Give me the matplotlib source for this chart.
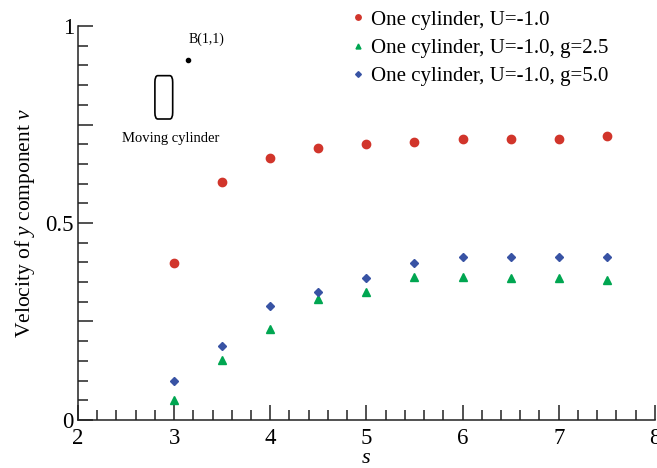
import matplotlib
matplotlib.use("Agg")
import matplotlib.pyplot as plt
from matplotlib.patches import FancyBboxPatch
from matplotlib.ticker import MultipleLocator, FuncFormatter

plt.rcParams['font.family'] = ['Liberation Serif', 'DejaVu Serif']
plt.rcParams['mathtext.fontset'] = 'custom'
plt.rcParams['mathtext.rm'] = 'Liberation Serif'
plt.rcParams['mathtext.it'] = 'Liberation Serif:italic'

# data
s = [3.0, 3.5, 4.0, 4.5, 5.0, 5.5, 6.0, 6.5, 7.0, 7.5]
v_one = [0.399, 0.604, 0.664, 0.690, 0.700, 0.705, 0.714, 0.714, 0.714, 0.720]
v_g25 = [0.051, 0.151, 0.230, 0.306, 0.325, 0.362, 0.362, 0.360, 0.360, 0.355]
v_g50 = [0.099, 0.189, 0.289, 0.324, 0.360, 0.399, 0.414, 0.414, 0.414, 0.414]
labels = ["One cylinder, U=-1.0",
          "One cylinder, U=-1.0, g=2.5",
          "One cylinder, U=-1.0, g=5.0"]

fig = plt.figure(figsize=(6.57, 4.68), dpi=100)
ax = fig.add_axes([0.1187, 0.1026, 0.878, 0.8418])

ax.plot(s, v_one, 'o', color='#d1352b', markersize=6, label=labels[0], clip_on=False)
ax.plot(s, v_g25, '^', color='#00a651', markersize=5.5, label=labels[1], clip_on=False)
ax.plot(s, v_g50, 'D', color='#3853a4', markersize=4.5, label=labels[2], clip_on=False)

ax.set_xlim(2, 8)
ax.set_ylim(0, 1)
ax.spines['top'].set_visible(False)
ax.spines['right'].set_visible(False)
for sp in ('left', 'bottom'):
    ax.spines[sp].set_linewidth(1.1)
    ax.spines[sp].set_color('#222222')

ax.xaxis.set_major_locator(MultipleLocator(1))
ax.xaxis.set_minor_locator(MultipleLocator(0.2))
ax.yaxis.set_major_locator(MultipleLocator(0.25))
ax.yaxis.set_minor_locator(MultipleLocator(0.05))

def ylab(val, pos):
    if abs(val) < 1e-9:
        return "0"
    if abs(val - 0.5) < 1e-9:
        return "0.5"
    if abs(val - 1) < 1e-9:
        return "1"
    return ""

ax.yaxis.set_major_formatter(FuncFormatter(ylab))
ax.tick_params(which='major', direction='in', length=11, width=1.1, labelsize=16.5,
               color='#222222')
ax.tick_params(which='minor', direction='in', length=7, width=1.1, color='#222222')
ax.tick_params(axis='x', pad=6)
ax.tick_params(axis='y', pad=3)

ax.set_xlabel("$s$", fontsize=16, labelpad=0)
ax.set_ylabel("Velocity of $y$ component $v$", fontsize=15.5, labelpad=6)

# moving cylinder sketch
ax.add_patch(FancyBboxPatch((2.80, 0.764), 0.185, 0.110,
                            boxstyle="round,pad=0,rounding_size=0.03",
                            mutation_aspect=0.55,
                            fill=False, edgecolor='black', linewidth=1.2))
ax.plot([3.14], [0.914], 'o', color='black', markersize=3)
ax.text(3.34, 0.966, "B(1,1)", fontsize=10, ha='center', va='center')
ax.text(2.96, 0.715, "Moving cylinder", fontsize=10.5, ha='center', va='center')

leg = ax.legend(loc='upper right', bbox_to_anchor=(0.945, 1.005), bbox_transform=fig.transFigure,
                frameon=False, fontsize=15, markerscale=0.65, handlelength=0.6,
                handletextpad=0.3, labelspacing=0.42, borderaxespad=0.2)

fig.savefig("out.png", dpi=100)
